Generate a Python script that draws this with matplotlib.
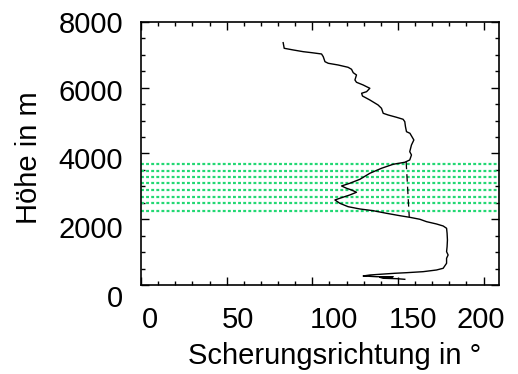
import numpy as np
import matplotlib
matplotlib.use("Agg")
import matplotlib.pyplot as plt
import matplotlib.transforms as mtrans
from matplotlib.ticker import MultipleLocator

# shear direction profile (deg) vs height (m)
direction = [83.0, 83.6, 88.9, 94.7, 99.6, 105.4, 106.4, 107.4, 109.3, 115.1,
             120.9, 122.9, 123.9, 125.8, 124.9, 125.8, 129.7, 131.7, 133.6, 131.7,
             128.8, 129.3, 133.6, 138.4, 140.4, 141.4, 144.3, 149.2, 153.0, 154.0,
             154.4, 155.0, 157.0, 159.3, 157.9, 156.9, 157.9, 156.9, 154.0, 147.2,
             140.4, 133.6, 127.8, 121.9, 117.1, 120.0, 122.9, 125.8, 121.9, 117.1,
             113.2, 116.1, 120.9, 127.8, 135.5, 143.3, 151.1, 156.9, 162.8, 166.7,
             172.5, 176.4, 178.4, 178.7, 178.9, 178.7, 178.4, 179.3, 178.4, 178.4,
             176.4, 172.5, 164.7, 155.0, 148.2, 139.4, 133.6, 129.7, 137.5, 147.2,
             139.4, 141.4, 149.2, 154.0]
height = [7371, 7200, 7149, 7097, 7067, 7027, 6945, 6793, 6744, 6692,
          6622, 6562, 6458, 6388, 6236, 6166, 6084, 6032, 5984, 5880,
          5832, 5749, 5628, 5476, 5375, 5223, 5171, 5101, 5041, 4968,
          4816, 4663, 4615, 4411, 4259, 4055, 3955, 3803, 3733, 3672,
          3550, 3398, 3215, 3094, 3012, 2942, 2890, 2820, 2738, 2656,
          2586, 2485, 2382, 2312, 2260, 2181, 2108, 2059, 1999, 1926,
          1856, 1795, 1725, 1573, 1369, 1165, 1013, 913, 812, 660,
          508, 456, 405, 374, 356, 325, 304, 274, 252, 252,
          234, 204, 192, 173]

# horizontal levels (green dotted)
levels = [3670, 3480, 3280, 3090, 2890, 2690, 2500, 2260]

# dashed reference segment
ref_dir = [154.8, 156.6]
ref_h = [3750, 2070]

xticks = [0, 50, 100, 150, 200]
yticks = [0, 2000, 4000, 6000, 8000]

plt.rcParams['font.family'] = ['Liberation Sans', 'DejaVu Sans']
fs = 21

fig = plt.figure(figsize=(5.18, 3.74), dpi=100)
ax = fig.add_axes([0.2722, 0.238, 0.6911, 0.7032])

for lv in levels:
    ax.axhline(lv, color='#22d873', linestyle=(0, (1.3, 1.0)), linewidth=1.6)

ax.plot(direction, height, color='black', linewidth=1.0)
ax.plot(ref_dir, ref_h, color='black', linewidth=0.9, linestyle=(0, (6, 4)))

ax.set_xlim(0, 209)
ax.set_ylim(0, 8000)
ax.set_xticks(xticks)
ax.set_yticks(yticks)
ax.xaxis.set_minor_locator(MultipleLocator(10))
ax.yaxis.set_minor_locator(MultipleLocator(500))

ax.tick_params(which='both', direction='in', top=True, right=True, width=1.0,
               labelsize=fs)
ax.tick_params(which='major', length=6)
ax.tick_params(axis='x', which='major', pad=15)
ax.tick_params(axis='y', which='major', pad=13)
ax.tick_params(which='minor', length=3)
for s in ax.spines.values():
    s.set_linewidth(1.2)

# the labels in the original sit a little off their ticks
xoff = [9, 11, 22, 15, -3]
yoff = [-11, -7.5, -4.5, -2, 0]
for tk, dx in zip(ax.xaxis.get_major_ticks(), xoff):
    lab = tk.label1
    lab.set_transform(lab.get_transform() +
                      mtrans.ScaledTranslation(dx / 100, 0, fig.dpi_scale_trans))
for tk, dy in zip(ax.yaxis.get_major_ticks(), yoff):
    lab = tk.label1
    lab.set_transform(lab.get_transform() +
                      mtrans.ScaledTranslation(0, dy / 100, fig.dpi_scale_trans))

ax.set_xlabel("Scherungsrichtung in °", fontsize=fs, va='top')
ax.xaxis.set_label_coords(0.541, -0.215)
ax.set_ylabel("Höhe in m", fontsize=fs)
ax.yaxis.set_label_coords(-0.274, 0.485)

fig.savefig("out.png", dpi=100)
